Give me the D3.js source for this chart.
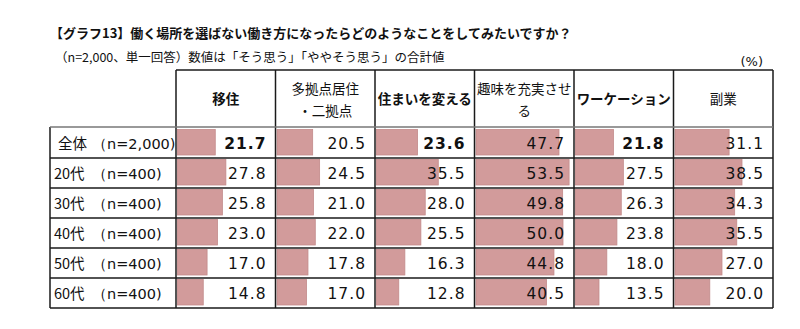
<!DOCTYPE html>
<html>
<head>
<meta charset="utf-8">
<script src="https://cdn.jsdelivr.net/npm/d3@7"></script>
<style>
  body { margin: 0; background: #fff; }
  svg { display: block; }
  text { font-family: "DejaVu Sans", Verdana, sans-serif; fill: #111; }
  .jp { font-family: "Noto Sans CJK JP", sans-serif; }
</style>
</head>
<body>
<div id="vis"></div>
<script>
// row groups and their sample sizes
var groups = ["全体", "20代", "30代", "40代", "50代", "60代"];
var sizes = ["（n=2,000)", "（n=400)", "（n=400)", "（n=400)", "（n=400)", "（n=400)"];

// activity columns (header lines, bold flag)
var activities = ["移住", "多拠点居住", "住まいを変える", "趣味を充実させる", "ワーケーション", "副業"];
var headerLines = [["移住"], ["多拠点居住", "・二拠点"], ["住まいを変える"], ["趣味を充実させ", "る"], ["ワーケーション"], ["副業"]];
var boldCols = [true, false, true, false, true, false];

// % who answered "そう思う" + "ややそう思う", one array per activity
var iju      = [21.7, 27.8, 25.8, 23.0, 17.0, 14.8];
var takyoten = [20.5, 24.5, 21.0, 22.0, 17.8, 17.0];
var sumai    = [23.6, 35.5, 28.0, 25.5, 16.3, 12.8];
var shumi    = [47.7, 53.5, 49.8, 50.0, 44.8, 40.5];
var worcation = [21.8, 27.5, 26.3, 23.8, 18.0, 13.5];
var fukugyo  = [31.1, 38.5, 34.3, 35.5, 27.0, 20.0];
var series = [iju, takyoten, sumai, shumi, worcation, fukugyo];

var W = 800, H = 329;
var left = 50, labelRight = 176, right = 773;
var headTop = 70, bodyTop = 128, bodyBottom = 308;

var svg = d3.select("#vis").append("svg")
  .attr("width", W)
  .attr("height", H);

svg.append("rect").attr("width", W).attr("height", H).attr("fill", "#fff");

var col = d3.scaleBand().domain(activities).range([labelRight, right]);
var row = d3.scaleBand().domain(groups).range([bodyTop, bodyBottom]);
var x = d3.scaleLinear().domain([0, 100]).range([0, 174]);

// titles
svg.append("text").attr("class", "jp")
  .attr("x", 50).attr("y", 38)
  .attr("font-size", 13)
  .attr("font-weight", "bold")
  .text("【グラフ13】働く場所を選ばない働き方になったらどのようなことをしてみたいですか？");

svg.append("text").attr("class", "jp")
  .attr("x", 55).attr("y", 62)
  .attr("font-size", 12.5)
  .text("（n=2,000、単一回答）数値は「そう思う」「ややそう思う」の合計値");

svg.append("text")
  .attr("x", 763).attr("y", 66)
  .attr("text-anchor", "end")
  .attr("font-size", 13)
  .text("(%)");

// bars and values
var cells = [];
series.forEach(function(vals, ci){
  vals.forEach(function(v, ri){
    cells.push({act: activities[ci], grp: groups[ri], v: v, bold: boldCols[ci] && ri == 0});
  });
});

svg.selectAll("rect.bar")
  .data(cells)
.enter().append("rect")
  .attr("class", "bar")
  .attr("x", function(d){ return col(d.act) + 1.5; })
  .attr("y", function(d){ return row(d.grp) + 1.5; })
  .attr("width", function(d){ return x(d.v); })
  .attr("height", row.bandwidth() - 4.5)
  .attr("fill", "#d29b9b")
  .attr("stroke", "#c28a8a")
  .attr("stroke-width", 0.8);

svg.selectAll("text.val")
  .data(cells)
.enter().append("text")
  .attr("class", "val")
  .attr("x", function(d){ return col(d.act) + col.bandwidth() - 9; })
  .attr("y", function(d){ return row(d.grp) + 21; })
  .attr("text-anchor", "end")
  .attr("font-size", 15.5)
  .attr("letter-spacing", 1)
  .attr("font-weight", function(d){ return d.bold ? "bold" : "normal"; })
  .text(function(d){ return d.v.toFixed(1); });

// row labels
groups.forEach(function(g, i){
  svg.append("text").attr("class", "jp")
    .attr("x", i == 0 ? 58 : 54).attr("y", row(g) + 20.5)
    .attr("font-size", 14.5)
    .text(g);
  svg.append("text")
    .attr("x", 92).attr("y", row(g) + 20.5)
    .attr("font-size", 14.5)
    .text(sizes[i]);
});

// column headers
activities.forEach(function(a, i){
  var lines = headerLines[i];
  var cx = col(a) + col.bandwidth() / 2;
  lines.forEach(function(line, j){
    var y = lines.length == 1 ? 104 : 94 + j * 22;
    svg.append("text").attr("class", "jp")
      .attr("x", cx).attr("y", y)
      .attr("text-anchor", "middle")
      .attr("font-size", 13.5)
      .attr("font-weight", boldCols[i] ? "bold" : "normal")
      .text(line);
  });
});

// grid lines
var edges = activities.map(function(a){ return col(a); }).concat([right]);
var g = svg.append("g").attr("stroke", "#1a1a1a").attr("stroke-width", 1.5).attr("fill", "none");

g.append("line").attr("x1", labelRight).attr("x2", right).attr("y1", headTop).attr("y2", headTop);
edges.forEach(function(ex){
  g.append("line").attr("x1", ex).attr("x2", ex).attr("y1", headTop).attr("y2", bodyBottom);
});
g.append("line").attr("x1", left).attr("x2", left).attr("y1", bodyTop - 1).attr("y2", bodyBottom);
groups.slice(1).forEach(function(gr){
  g.append("line").attr("x1", left).attr("x2", right).attr("y1", row(gr)).attr("y2", row(gr));
});
g.append("line").attr("x1", left).attr("x2", right).attr("y1", bodyBottom).attr("y2", bodyBottom);
g.append("line").attr("x1", left).attr("x2", right).attr("y1", bodyTop - 1).attr("y2", bodyTop - 1)
  .attr("stroke", "#777");
</script>
</body>
</html>
